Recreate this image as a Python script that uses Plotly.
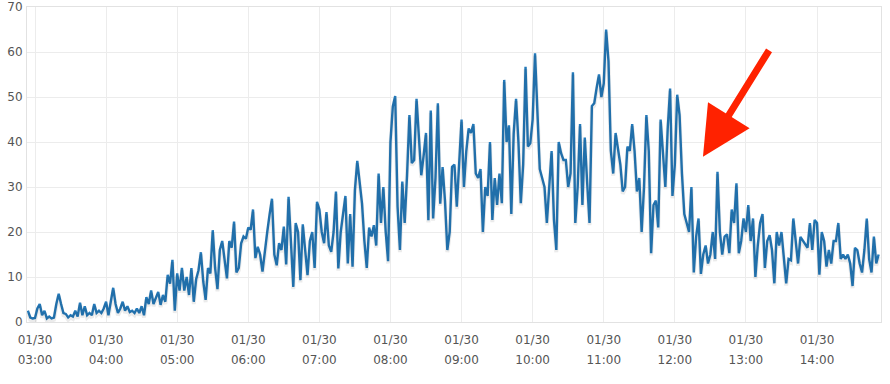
import pandas as pd
import plotly.graph_objects as go

# ---- data (one sample every 2 minutes from 01/30 02:54) ----
start_time = "2024-01-30 02:54:00"
step = "2min"
values = [
    2.5, 1.0, 0.8, 0.9, 3.0, 4.0, 1.5, 2.5, 0.8, 1.2,
    0.8, 1.0, 4.0, 6.3, 4.0, 2.0, 1.8, 1.0, 1.5, 1.2,
    2.5, 1.2, 4.3, 1.5, 3.5, 1.5, 2.0, 1.5, 4.0, 2.0,
    2.5, 2.0, 3.0, 4.5, 1.5, 4.8, 7.6, 4.0, 2.0, 3.0,
    4.5, 2.5, 3.5, 2.2, 2.5, 2.0, 3.0, 2.0, 3.5, 1.5,
    5.5, 4.0, 7.0, 4.0, 5.6, 6.7, 3.8, 6.0, 4.5, 10.5,
    8.5, 13.8, 2.5, 10.8, 7.0, 12.0, 7.0, 10.0, 6.0, 12.0,
    4.5, 9.5, 11.5, 15.5, 9.0, 4.9, 12.0, 10.8, 20.4, 12.0,
    7.3, 16.0, 18.0, 14.0, 9.7, 18.0, 16.5, 22.3, 11.0, 12.0,
    17.5, 19.0, 18.5, 21.0, 20.5, 25.0, 14.2, 16.7, 15.0, 11.2,
    15.0, 20.0, 23.9, 27.4, 15.0, 12.6, 17.5, 16.0, 21.2, 12.8,
    27.8, 19.0, 7.8, 22.0, 20.0, 9.3, 21.7, 16.0, 10.4, 18.0,
    20.0, 12.0, 26.7, 25.0, 20.0, 17.5, 24.4, 17.0, 15.6, 20.0,
    29.0, 11.9, 20.0, 24.0, 28.0, 13.0, 24.0, 12.3, 29.3, 35.8,
    31.0, 26.3, 18.0, 12.0, 21.0, 19.0, 21.5, 17.0, 33.0, 22.0,
    30.0, 20.0, 13.5, 40.0, 47.9, 50.2, 25.6, 16.0, 31.2, 22.0,
    32.6, 46.0, 35.3, 36.0, 49.6, 40.0, 32.6, 37.0, 42.0, 22.6,
    47.0, 23.0, 32.0, 48.6, 26.3, 34.4, 27.0, 16.0, 20.0, 34.5,
    35.0, 25.6, 35.5, 45.0, 30.0, 38.0, 43.0, 42.0, 44.0, 33.0,
    32.0, 34.0, 20.0, 30.0, 28.0, 40.0, 22.7, 32.0, 26.0, 33.0,
    26.4, 53.8, 40.0, 43.7, 24.0, 41.9, 49.6, 40.0, 26.4, 35.0,
    56.7, 39.0, 39.7, 45.0, 59.7, 48.0, 34.0, 32.0, 30.0, 22.0,
    30.0, 38.0, 22.7, 16.0, 40.0, 37.5, 36.0, 36.0, 30.0, 33.0,
    55.5, 22.0, 30.0, 44.0, 26.0, 41.0, 31.0, 22.0, 48.0, 48.6,
    52.0, 55.0, 50.0, 53.0, 65.0, 58.0, 38.0, 33.0, 42.0, 38.0,
    35.0, 29.0, 30.0, 39.0, 38.0, 44.0, 38.0, 29.0, 32.0, 20.0,
    30.0, 46.0, 38.0, 15.3, 26.0, 27.0, 21.0, 45.0, 38.0, 30.0,
    43.0, 51.9, 28.0, 35.0, 50.5, 46.0, 33.0, 24.0, 22.0, 20.0,
    30.0, 11.0, 19.0, 23.0, 10.7, 15.0, 17.0, 13.0, 15.0, 20.0,
    14.0, 33.4, 20.0, 15.0, 19.0, 19.5, 15.3, 25.0, 22.0, 30.8,
    15.3, 18.0, 23.0, 20.0, 26.0, 18.0, 23.0, 10.0, 17.0, 22.0,
    24.0, 12.0, 18.0, 19.3, 16.0, 8.6, 20.0, 17.0, 20.0, 14.0,
    8.6, 14.0, 13.7, 23.0, 18.0, 13.0, 18.9, 18.0, 17.4, 16.5,
    22.0, 16.0, 22.7, 22.0, 10.5, 20.0, 18.0, 12.3, 16.0, 13.0,
    18.0, 18.0, 22.0, 14.0, 15.0, 14.0, 15.0, 13.0, 8.0, 16.5,
    16.0, 13.0, 11.0, 16.0, 23.0, 14.0, 11.0, 19.0, 13.0, 15.0,
]
y_ticks = [0, 10, 20, 30, 40, 50, 60, 70]
x_range = ["2024-01-30 02:53:15", "2024-01-30 14:54:00"]
arrow_point = ("2024-01-30 12:23:45", 36.7)

times = pd.date_range(start=start_time, periods=len(values), freq=step)
shadow = [v - 0.5 for v in values]

grid = "#ececec"
font = dict(family="DejaVu Sans", size=12, color="#555555")

fig = go.Figure()
fig.add_trace(go.Scatter(x=times, y=shadow, mode="lines", xaxis="x2",
                         line=dict(color="rgba(0,0,0,0.08)", width=4),
                         hoverinfo="skip", showlegend=False))
fig.add_trace(go.Scatter(x=times, y=values, mode="lines",
                         line=dict(color="#2479b9", width=2.4),
                         showlegend=False))

fig.update_layout(
    width=890, height=384,
    margin=dict(l=27, r=9, t=7, b=62, autoexpand=False),
    paper_bgcolor="white", plot_bgcolor="white",
    font=font,
    xaxis=dict(type="date", range=x_range, dtick=3600000,
               tick0="2024-01-30 03:00:00", tickformat="%m/%d",
               showgrid=True, gridcolor=grid, gridwidth=1,
               showline=True, linecolor="#e2e2e2", mirror=True,
               zeroline=False, ticks="", ticklabelstandoff=7,
               automargin=False, tickfont=font),
    xaxis2=dict(type="date", range=x_range, dtick=3600000,
                tick0="2024-01-30 03:00:00", tickformat="%H:%M",
                overlaying="x", matches="x", side="bottom", anchor="y",
                showgrid=False, showline=False, zeroline=False, ticks="",
                ticklabelstandoff=29, automargin=False, tickfont=font),
    yaxis=dict(range=[0, 70], tickvals=y_ticks, showgrid=True,
               gridcolor=grid, gridwidth=1, showline=True,
               linecolor="#e2e2e2", mirror=True, zeroline=False,
               ticks="", ticklabelstandoff=1, automargin=False,
               tickfont=font),
    annotations=[dict(x=arrow_point[0], y=arrow_point[1], xref="x", yref="y",
                      text="", showarrow=True, ax=67, ay=-108,
                      arrowcolor="#ff2200", arrowwidth=7, arrowhead=2,
                      arrowsize=1.4)],
)

fig.write_html("out.html",
               config={"displayModeBar": False},
               post_script="document.body.style.margin='0';"
                           "document.body.style.padding='0';")
